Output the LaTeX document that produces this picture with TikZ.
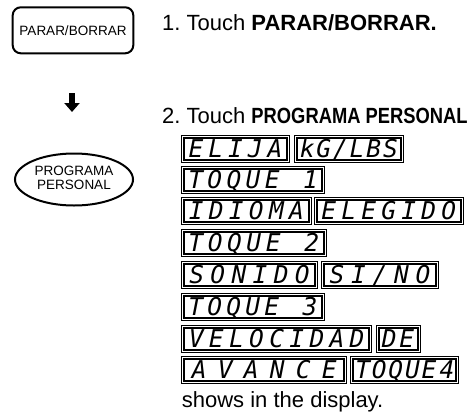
\documentclass[tikz,border=0pt]{standalone}
\usepackage{fontspec}
\setmainfont{Liberation Sans}
\newfontfamily\lcdfont{DejaVu Sans Mono}
\usetikzlibrary{shapes.geometric,arrows.meta}
\ExplSyntaxOn
\NewDocumentCommand\lcdtext{mm}
 {
  \hbox_to_wd:nn {#1}
   {
    \tl_map_inline:nn {#2}
     { \hbox_to_wd:nn { \dim_eval:n { (#1) / \tl_count:n {#2} } } { \hss ##1 \hss } }
   }
 }
\ExplSyntaxOff
\tikzset{
  lcdbox/.style={draw, line width=1pt, minimum height=27pt, inner sep=0pt, outer sep=0pt,
    anchor=north west, text height=17.8pt, text depth=0pt,
    font=\lcdfont\itshape\fontsize{24.5}{24.5}\selectfont},
  lcdinner/.style={line width=2pt},
  bigtext/.style={anchor=base west, inner sep=0pt, font=\fontsize{22}{24}\selectfont},
  keybox/.style={draw, line width=2pt, inner sep=0pt, font=\fontsize{13.5}{14}\selectfont},
  flowarrow/.style={line width=6pt, -{Triangle[width=15pt,length=9pt]}}
}
\newcommand\lcdbox[5]{%
  \node[lcdbox, minimum width=#4pt] (#1) at (#2,#3) {\lcdtext{#4pt-9pt}{#5}};
  \draw[lcdinner] ([xshift=2.5pt,yshift=-2.5pt]#1.north west) rectangle ([xshift=-2.5pt,yshift=2.5pt]#1.south east);
}
\begin{document}
\frenchspacing
\begin{tikzpicture}[x=1pt,y=-1pt]
\useasboundingbox (0,0) rectangle (472,416);
\clip (0,0) rectangle (472,416);
% left column
\node[keybox, rounded corners=8pt, minimum width=120.6pt, minimum height=46pt] (k1) at (73,30.3) {\raisebox{-1.5pt}{PARAR/BORRAR}};
\coordinate (a1) at (72,93);
\coordinate (a2) at (72,112);
\draw[flowarrow] (a1) -- (a2);
\node[keybox, ellipse, minimum width=118pt, minimum height=52pt, font=\fontsize{13.5}{14.5}\selectfont] (k2) at (74,179.5) {\raisebox{-2pt}{\begin{tabular}{@{}c@{}}PROGRAMA\\PERSONAL\end{tabular}}};
% texts
\node[bigtext] (t1) at (162,30.5) {1. Touch \textbf{PARAR/BORRAR.}};
\node[bigtext] (t2) at (162,123.3) {2. Touch \scalebox{0.834}[1]{\textbf{PROGRAMA PERSONAL}}};
\node[bigtext] (t3) at (181.7,407) {shows in the display.};
% display boxes
\lcdbox{d1}{181.7}{135}{107.6}{ELIJA}
\lcdbox{d2}{294.3}{135}{109}{kG/LBS}
\lcdbox{d3}{181.7}{166.5}{142.8}{TOQUE{ }1}
\lcdbox{d4}{181.7}{197.5}{129.3}{IDIOMA}
\lcdbox{d5}{314.3}{197.5}{149}{ELEGIDO}
\lcdbox{d6}{181.7}{229.5}{144.3}{TOQUE{ }2}
\lcdbox{d7}{181.7}{261.5}{135.6}{SONIDO}
\lcdbox{d8}{321.7}{261.5}{116.6}{SI/NO}
\lcdbox{d9}{181.7}{293}{142.3}{TOQUE{ }3}
\lcdbox{d10}{181.7}{325}{190}{VELOCIDAD}
\lcdbox{d11}{376}{325}{44}{DE}
\lcdbox{d12}{181.7}{356.5}{165}{AVANCE}
\lcdbox{d13}{350}{356.5}{108.3}{TOQUE{\kern3pt 4}}
\end{tikzpicture}
\end{document}
